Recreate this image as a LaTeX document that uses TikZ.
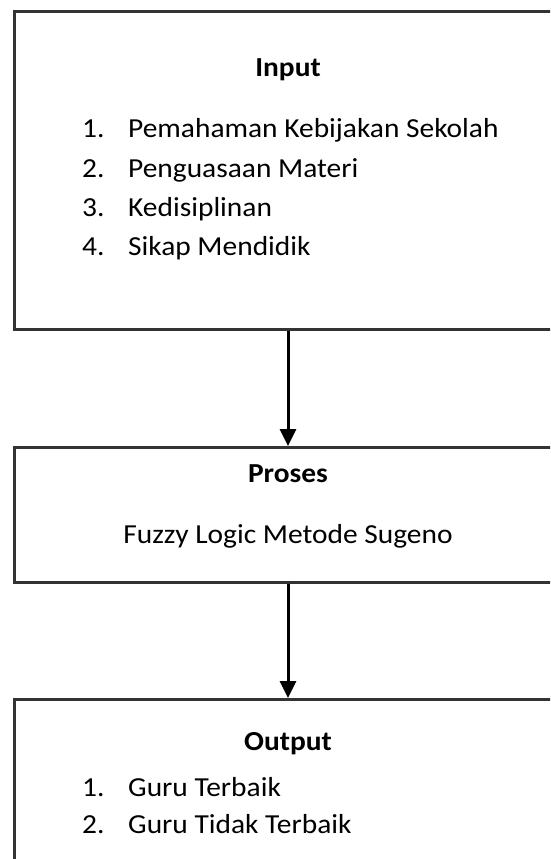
\documentclass[tikz,border=0pt]{standalone}
\usepackage{fontspec}
\setmainfont{Carlito}[FakeStretch=1.07]
\usetikzlibrary{arrows.meta}
\begin{document}
\begin{tikzpicture}[x=1pt,y=-1pt,
  box/.style={draw=black!80,line width=2.6pt,anchor=north west,inner sep=0pt,minimum width=600pt},
  txt/.style={inner sep=0pt,font=\fontsize{27.5}{30}\selectfont},
  ttl/.style={txt,anchor=base,font=\fontsize{27.5}{30}\selectfont\bfseries},
  item/.style={txt,anchor=base west},
  arr/.style={line width=3pt,black,-{Triangle[width=16pt,length=17pt]}}]
\useasboundingbox (0,0) rectangle (550,859);
\clip (0,0) rectangle (550,859);
\node[box,minimum height=318pt] (top) at (13,10) {};
\node[box,minimum height=135pt] (mid) at (13,446) {};
\node[box,minimum height=250pt] (bot) at (13,698) {};
\coordinate (ax) at (288,0);
% top box text
\node[ttl] (tin) at (288,76) {Input};
\node[item] (n1) at (82,137) {1.};
\node[item] (t1) at (128,137) {Pemahaman Kebijakan Sekolah};
\node[item] (n2) at (82,177) {2.};
\node[item] (t2) at (128,177) {Penguasaan Materi};
\node[item] (n3) at (82,216) {3.};
\node[item] (t3) at (128,216) {Kedisiplinan};
\node[item] (n4) at (82,255) {4.};
\node[item] (t4) at (128,255) {Sikap Mendidik};
% middle
\node[ttl] (tpr) at (288,482) {Proses};
\node[txt,anchor=base] (tfz) at (288,543) {Fuzzy Logic Metode Sugeno};
% bottom
\node[ttl] (tout) at (288,750) {Output};
\node[item] (m1) at (82,796) {1.};
\node[item] (u1) at (128,796) {Guru Terbaik};
\node[item] (m2) at (82,833) {2.};
\node[item] (u2) at (128,833) {Guru Tidak Terbaik};
% arrows
\draw[arr] (top.south -| ax) -- (mid.north -| ax);
\draw[arr] (mid.south -| ax) -- (bot.north -| ax);
\end{tikzpicture}
\end{document}
